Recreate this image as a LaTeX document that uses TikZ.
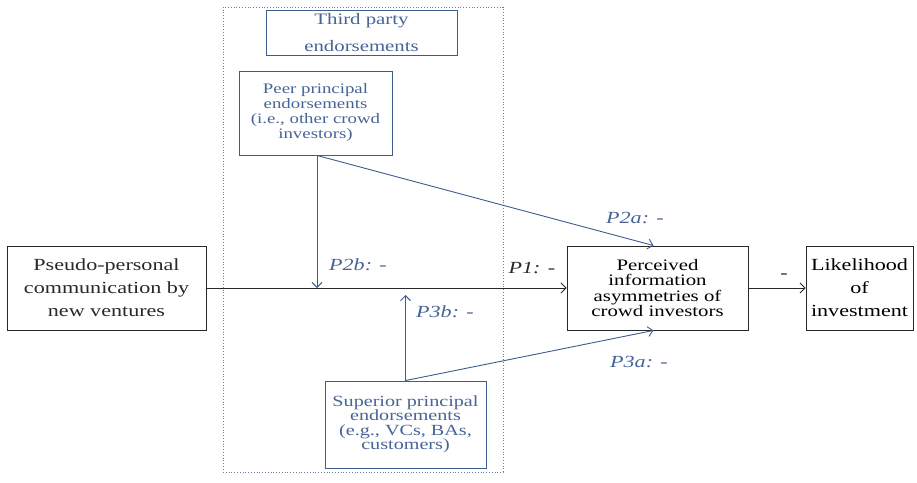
\documentclass[tikz,border=0pt]{standalone}
\usepackage{fontspec}
\setmainfont{Liberation Serif}[FakeStretch=1.3]
\usetikzlibrary{arrows.meta,calc}
\definecolor{bl}{RGB}{62,92,140}
\definecolor{bltext}{RGB}{70,100,150}
\definecolor{dk}{RGB}{40,40,40}
\begin{document}
\begin{tikzpicture}[x=1pt,y=-1pt,
  box/.style={draw=dk,line width=0.9pt,align=center,inner sep=0pt,text=dk},
  bbox/.style={draw=bl,line width=0.9pt,align=center,inner sep=0pt,text=bltext},
  groupbox/.style={draw=bl!80,dotted,line width=0.8pt,inner sep=0pt},
  arr/.style={-{Straight Barb[length=5pt,width=10pt]},line width=0.9pt},
  lab/.style={font=\fontsize{17}{17}\selectfont\itshape,inner sep=0pt}]
\useasboundingbox (0,0) rectangle (917,482);
\node[groupbox,minimum width=280,minimum height=465] (group) at (363,239.5) {};
\node[bbox,minimum width=191,minimum height=45,font=\fontsize{16}{27}\selectfont] (third) at (361.5,32.5) {Third party\\endorsements};
\node[bbox,minimum width=153,minimum height=84,font=\fontsize{14.5}{15}\selectfont] (peer) at (315.5,113) {Peer principal\\endorsements\\(i.e., other crowd\\investors)};
\node[bbox,minimum width=161,minimum height=87,font=\fontsize{15.5}{14.5}\selectfont] (sup) at (405.5,424.5) {Superior principal\\endorsements\\(e.g., VCs, BAs,\\customers)};
\node[box,minimum width=199,minimum height=84,font=\fontsize{17}{23}\selectfont] (pseudo) at (106.5,288) {Pseudo-personal\\communication by\\new ventures};
\node[box,minimum width=181,minimum height=84,font=\fontsize{16}{15.5}\selectfont,text=black] (perc) at (657.5,288) {Perceived\\information\\asymmetries of\\crowd investors};
\node[box,minimum width=107,minimum height=84,font=\fontsize{17}{23}\selectfont,text=black] (like) at (859.5,288) {Likelihood\\of\\investment};
\draw[arr,dk] (pseudo.east) -- (perc.west);
\draw[arr,dk] (perc.east) -- (like.west);
\coordinate (p2b) at ($(peer.south) + (1.5,0)$);
\coordinate (p2bend) at (p2b |- pseudo.east);
\coordinate (p3bend) at ($(sup.north |- pseudo.east) + (0,7)$);
\draw[arr,bl] (p2b) -- (p2bend);
\draw[arr,bl] (p2b) -- ([xshift=-4pt]perc.north);
\draw[arr,bl] (sup.north) -- (p3bend);
\draw[arr,bl] (sup.north) -- ([xshift=-4pt]perc.south);
\node[lab,text=bltext] (l2a) at (635,218) {P2a: -};
\node[lab,text=bltext] (l2b) at (358,265) {P2b: -};
\node[lab,text=dk] (l1) at (532,268) {P1: -};
\node[lab,text=bltext] (l3b) at (445,312) {P3b: -};
\node[lab,text=bltext] (l3a) at (639,362) {P3a: -};
\node[font=\fontsize{17}{17}\selectfont,text=dk,inner sep=0pt] (minus) at (784,276) {-};
\end{tikzpicture}
\end{document}
